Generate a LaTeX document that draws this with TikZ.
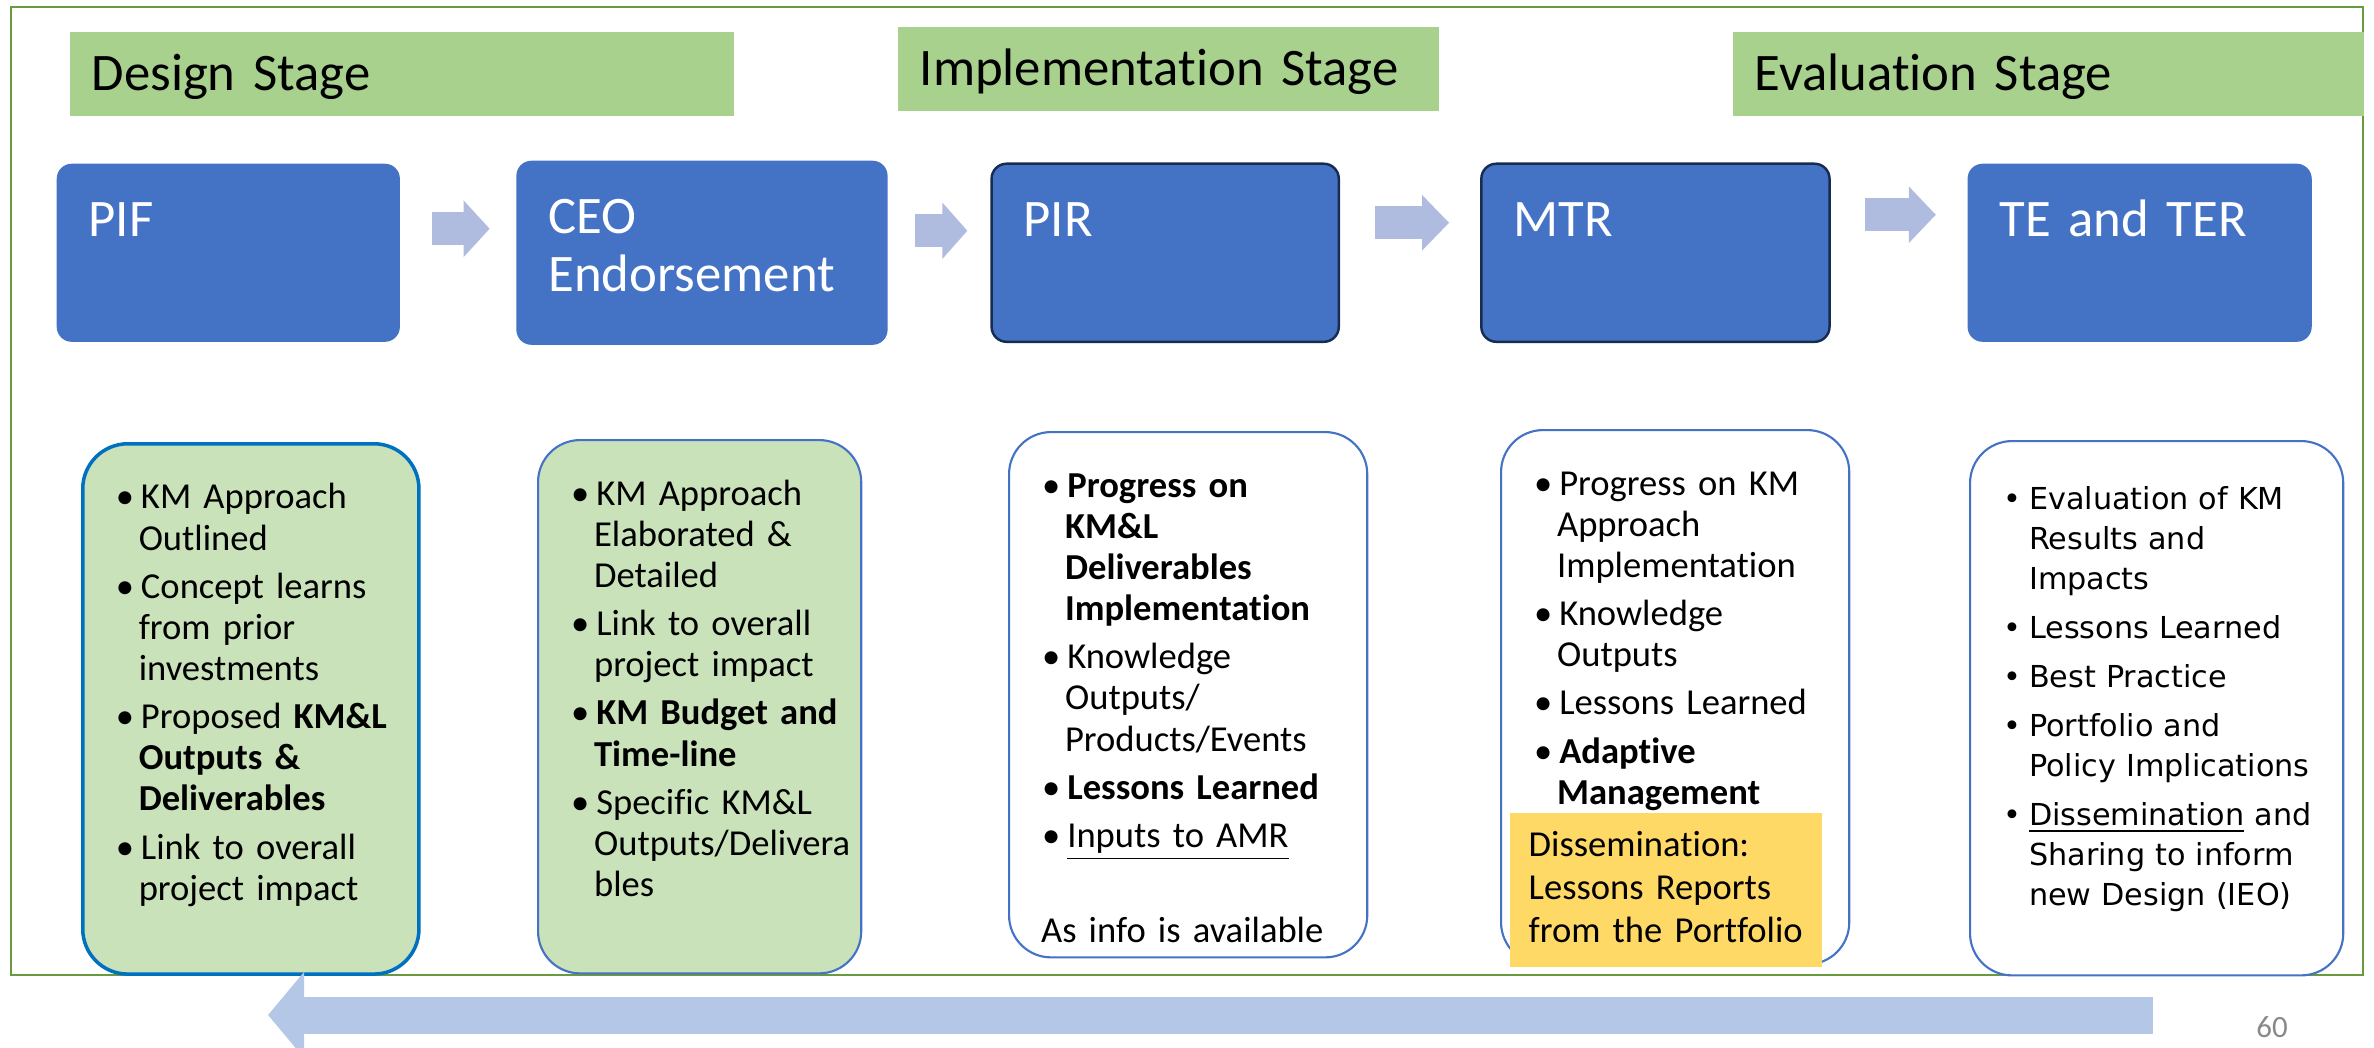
\documentclass[tikz,border=0pt]{standalone}
\usepackage{fontspec}
\setmainfont{Carlito}[Ligatures=NoCommon]
\newfontfamily\verdana{DejaVu Sans}
\usepackage{enumitem}
\usetikzlibrary{
	positioning,
	arrows.meta
}

\definecolor{stagegreen}{HTML}{A9D18E}
\definecolor{stepblue}{HTML}{4472C4}
\definecolor{stepnavy}{HTML}{172C51}
\definecolor{itemgreen}{HTML}{C9E2BA}
\definecolor{itemedge}{HTML}{0070C0}
\definecolor{flowblue}{HTML}{B0BCDF}
\definecolor{loopblue}{HTML}{B4C7E7}
\definecolor{framegreen}{HTML}{6A9A3F}
\definecolor{noteyellow}{HTML}{FFD966}
\definecolor{pagegray}{HTML}{898989}

\newlist{kmlist}{itemize}{1}
\setlist[kmlist]{label=\textbullet, labelindent=0.10cm, labelwidth=0.16cm, labelsep=0.07cm,
	leftmargin=0.33cm, align=left, itemsep=0.07cm, parsep=0pt, topsep=0pt, partopsep=0pt}
\hyphenpenalty=10000

\begin{document}
\begin{tikzpicture}[
	x=0.01cm, y=-0.01cm,
	node distance =0mm,
	stagebar/.style = {
		rectangle,
		fill=stagegreen,
		anchor=north west,
		align=left,
		inner xsep=0.22cm, inner ysep=0,
		text height=0.59cm, text depth=0.25cm,
		font=\fontsize{15}{16.5}\selectfont
	},
	stepbox/.style = {
		rectangle,
		rounded corners=0.15cm,
		fill=stepblue,
		text=white,
		align=left,
		inner xsep=0.32cm, inner ysep=0,
		text height=0.73cm, text depth=1.05cm,
		font=\fontsize{15}{16.5}\selectfont
	},
	itembox/.style = {
		rectangle,
		rounded corners=0.42cm,
		draw=stepblue, line width=0.6pt,
		fill=white,
		anchor=north west,
		align=left,
		inner xsep=0.23cm, inner ysep=0,
		text height=0.24cm,
		font=\fontsize{10.4}{11.7}\selectfont
	},
	notebox/.style = {
		rectangle,
		fill=noteyellow,
		anchor=north west,
		align=left,
		inner xsep=0.19cm, inner ysep=0,
		text height=0.44cm, text depth=1.10cm,
		font=\fontsize{10.4}{12.2}\selectfont
	},
	flowarrow/.style = {
		draw=flowblue,
		line width=0.33cm
	},
	loopback/.style = {
		draw=loopblue,
		line width=0.37cm,
		-{Triangle[length=0.36cm, width=0.84cm]}
	},
]
	\useasboundingbox (0,0) rectangle (2374,1047);
	\draw[framegreen, line width=0.8pt] (11,7) rectangle (2363,975);

	\node (design) [stagebar, text width=6.20cm] at (69,31) {Design Stage};
	\node (implement) [stagebar, text width=4.97cm] at (897,26) {Implementation Stage};
	\node (evaluate) [stagebar, text width=5.87cm] at (1732,31) {Evaluation Stage};

	\node (pif) [stepbox, anchor=north west, text width=2.79cm] at (56,163) {PIF};
	\node (ceo) [stepbox, right=1.15cm of pif, text width=3.07cm, text depth=1.11cm] {CEO\\Endorsement};
	\node (pir) [stepbox, right=1.02cm of ceo, text width=2.83cm, draw=stepnavy, line width=0.7pt] {PIR};
	\node (mtr) [stepbox, right=1.40cm of pir, text width=2.84cm, draw=stepnavy, line width=0.7pt] {MTR};
	\node (te) [stepbox, right=1.36cm of mtr, text width=2.80cm] {TE and TER};

	\draw[flowarrow, shorten <=0.31cm, shorten >=0.26cm, -{Triangle[length=0.26cm, width=0.55cm]}]
		([yshift=2.4mm]pif.east) -- ([yshift=2.4mm]pif.east -| ceo.west);
	\draw[flowarrow, shorten <=0.27cm, shorten >=0.23cm, -{Triangle[length=0.25cm, width=0.55cm]}]
		([yshift=2.2mm]ceo.east) -- ([yshift=2.2mm]ceo.east -| pir.west);
	\draw[flowarrow, shorten <=0.35cm, shorten >=0.31cm, -{Triangle[length=0.27cm, width=0.54cm]}]
		([yshift=3.0mm]pir.east) -- ([yshift=3.0mm]pir.east -| mtr.west);
	\draw[flowarrow, shorten <=0.34cm, shorten >=0.31cm, -{Triangle[length=0.27cm, width=0.55cm]}]
		([yshift=3.8mm]mtr.east) -- ([yshift=3.8mm]mtr.east -| te.west);

	\node (pifitems) [itembox, rounded corners=0.45cm, fill=itemgreen, draw=itemedge, line width=1pt,
		text width=2.90cm, text depth=5.06cm] at (81,442) {%
		\begin{kmlist}
			\item KM Approach\\Outlined
			\item Concept learns\\from prior\\investments
			\item Proposed \textbf{KM\&L\\Outputs \&\\Deliverables}
			\item Link to overall\\project impact
		\end{kmlist}};
	\node (ceoitems) [itembox, fill=itemgreen, text width=2.77cm, text depth=5.09cm] at (537,439) {%
		\begin{kmlist}
			\item KM Approach\\Elaborated \&\\Detailed
			\item Link to overall\\project impact
			\item \textbf{KM Budget and\\Time-line}
			\item Specific KM\&L\\Outputs/Delivera\\bles
		\end{kmlist}};
	\node (piritems) [itembox, text width=3.12cm, text depth=5.01cm] at (1008,431) {%
		\begin{kmlist}
			\item \textbf{Progress on\\KM\&L\\Deliverables\\Implementation}
			\item Knowledge\\Outputs/\\Products/Events
			\item \textbf{Lessons Learned}
			\item \underline{Inputs to AMR}
		\end{kmlist}
		\par\vspace{0.54cm}\hspace*{0.09cm}As info is available};
	\node (mtritems) [itembox, text width=3.02cm, text depth=5.10cm] at (1500,429) {%
		\begin{kmlist}
			\item Progress on KM\\Approach\\Implementation
			\item Knowledge\\Outputs
			\item Lessons Learned
			\item \textbf{Adaptive\\Management}
		\end{kmlist}};
	\node (dissemination) [notebox, text width=2.74cm] at (1509,812) {Dissemination:\\Lessons Reports\\from the Portfolio};
	\node (teitems) [itembox, text width=3.27cm, text height=0.28cm, text depth=5.06cm,
		font=\verdana\fontsize{8.6}{11.4}\selectfont] at (1969,440) {%
		\begin{kmlist}[labelwidth=0.19cm, leftmargin=0.36cm, itemsep=0.09cm]
			\item Evaluation of KM\\Results and\\Impacts
			\item Lessons Learned
			\item Best Practice
			\item Portfolio and\\Policy Implications
			\item \underline{Dissemination} and\\Sharing to inform\\new Design (IEO)
		\end{kmlist}};

	\coordinate (loopstart) at (2153,1015);
	\coordinate (loopend) at (268,1015);
	\draw[loopback] (loopstart) -- (loopend);

	\node (pagenum) [font=\fontsize{8.8}{10}\selectfont, text=pagegray] at (2272,1027) {60};
\end{tikzpicture}
\end{document}
